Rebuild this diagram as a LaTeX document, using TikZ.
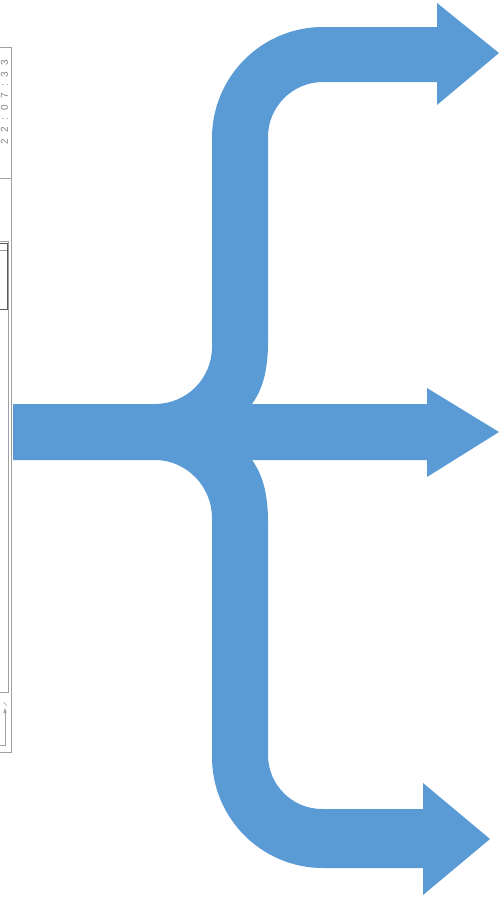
\documentclass[tikz,border=0pt]{standalone}
\usepackage{fontspec}
\setmainfont{Liberation Sans}
\definecolor{arrowblue}{HTML}{5B9BD5}
\definecolor{frame}{HTML}{A0A0A0}
\definecolor{darkframe}{HTML}{5A5A5A}
\newcommand{\gp}{\hspace{6.5pt}}
\begin{document}
\begin{tikzpicture}[x=1pt,y=-1pt,
  shotline/.style={draw=frame,line width=0.8pt},
  shotdark/.style={draw=darkframe,line width=0.9pt}]
\useasboundingbox (0,0) rectangle (499,897);
% --- fragment of a screenshot at the left edge ---
\draw[shotline] (0,47) -- (11.5,47) -- (11.5,752) -- (0,752);
\draw[shotline] (0,178) -- (11.5,178);
\draw[shotline] (0,241) -- (8,241) -- (8,692) -- (0,692);
\draw[shotdark] (0,243) -- (7,243) -- (7,309) -- (0,309);
\draw[shotline] (0,250) -- (7,250);
\draw[shotline] (0,745) -- (5,745) -- (5,712);
\fill[frame] (5,708) -- (3.3,713) -- (6.7,713) -- cycle;
\draw[shotline,line width=0.5pt] (3.5,702) -- (7,706);
\node[rotate=90,text=gray,font=\fontsize{10}{10}\selectfont,inner sep=0pt] (stamp) at (4.5,102) {2\gp2\gp:\gp0\gp7\gp:\gp3\gp3};
% --- the branching brace arrow ---
\fill[arrowblue]
  (13,404) -- (155,404)
  .. controls (186.5,404) and (212,378.5) .. (212,347)
  -- (212,138)
  .. controls (212,76.7) and (261.7,27) .. (323,27)
  -- (437,27) -- (437,3) -- (499,53) -- (437,105) -- (437,82) -- (323,82)
  .. controls (292.6,82) and (268,106.6) .. (268,137)
  -- (268,342)
  .. controls (268,372) and (262,390) .. (252,404)
  -- (427,404) -- (427,388) -- (499,432) -- (427,477) -- (427,460) -- (252,460)
  .. controls (262,474) and (268,492) .. (268,522)
  -- (268,755)
  .. controls (268,784.8) and (292.2,809) .. (322,809)
  -- (423,809) -- (423,783) -- (490,839) -- (423,895) -- (423,868) -- (323,868)
  .. controls (261.7,868) and (212,818.3) .. (212,757)
  -- (212,518)
  .. controls (212,486.5) and (186.5,460) .. (155,460)
  -- (13,460) -- cycle;
\end{tikzpicture}
\end{document}
